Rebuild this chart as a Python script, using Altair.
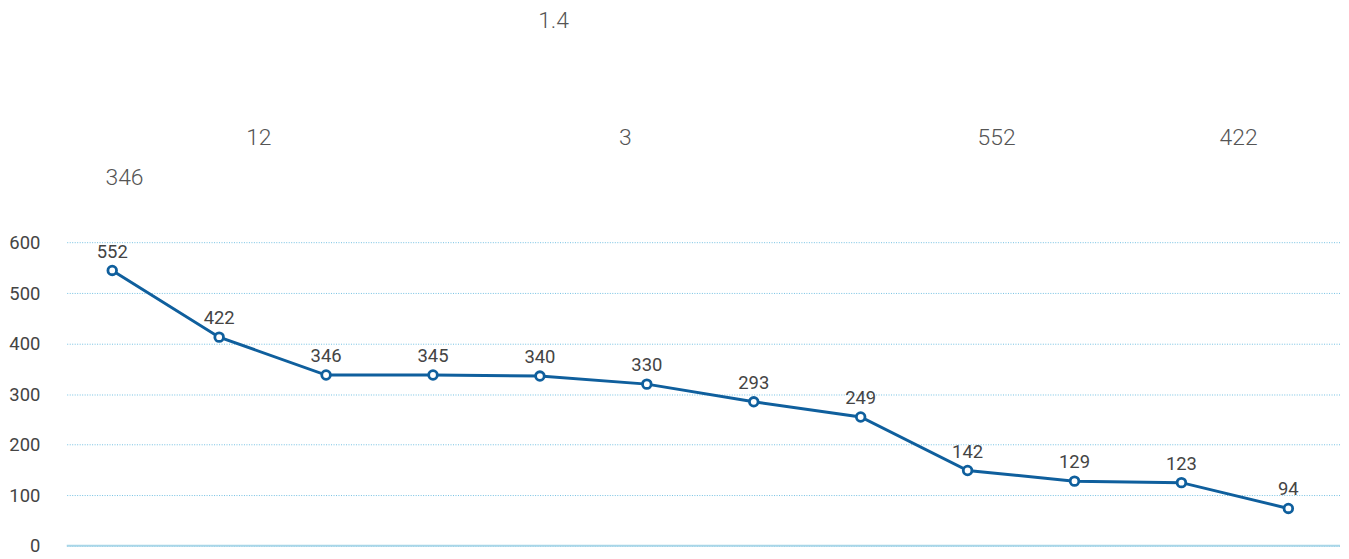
import altair as alt
import pandas as pd

# Plotted series (positions) and the labels printed above each point
index = list(range(12))
values = [545, 413, 338, 338, 336, 320, 285, 255, 149, 128, 125, 74]
labels = ["552", "422", "346", "345", "340", "330", "293", "249", "142", "129", "123", "94"]

# Floating annotations at the top of the chart (data coordinates)
ann_text = ["1.4", "12", "3", "552", "422", "346"]
ann_x = [4.128, 1.371, 4.798, 8.271, 10.534, 0.115]
ann_y = [1038, 807, 807, 807, 807, 728]

y_ticks = [0, 100, 200, 300, 400, 500, 600]

df = pd.DataFrame({"i": index, "v": values, "label": labels})
ann = pd.DataFrame({"t": ann_text, "x": ann_x, "y": ann_y})
base_rule = pd.DataFrame({"y": [0]})

LINE = "#0f5f9d"
xs = alt.Scale(domain=[-0.4255, 11.483], nice=False, zero=False)
ys = alt.Scale(domain=[0, 1062], nice=False)

x_enc = alt.X("i:Q", scale=xs, axis=None)
y_enc = alt.Y(
    "v:Q",
    scale=ys,
    axis=alt.Axis(
        values=y_ticks,
        title=None,
        ticks=False,
        domain=False,
        labelPadding=27,
        labelFont="Roboto",
        labelFontSize=18.5,
        labelColor="#444444",
        grid=True,
        gridColor="#74c1e2",
        gridDash=[1, 1.5],
        gridWidth=1,
        minExtent=57,
        maxExtent=57,
    ),
)

baseline = alt.Chart(base_rule).mark_rule(color="#a8d6e8", strokeWidth=2).encode(
    y=alt.Y("y:Q", scale=ys),
    x=alt.value(0),
    x2=alt.value(1279),
)

line = alt.Chart(df).mark_line(color=LINE, strokeWidth=3).encode(x=x_enc, y=y_enc)

points = alt.Chart(df).mark_point(
    shape="circle", filled=True, fill="white", stroke=LINE, strokeWidth=2.8, size=75, opacity=1
).encode(x=x_enc, y=alt.Y("v:Q", scale=ys))

text = alt.Chart(df).mark_text(
    font="Roboto", fontSize=18.5, color="#444444", baseline="alphabetic", dy=-13
).encode(x=x_enc, y=alt.Y("v:Q", scale=ys), text="label:N")

annotations = alt.Chart(ann).mark_text(
    font="Roboto",
    fontSize=23,
    fontWeight=300,
    color="#555555",
    baseline="middle",
    align="center",
).encode(
    x=alt.X("x:Q", scale=xs),
    y=alt.Y("y:Q", scale=ys),
    text="t:N",
)

chart = (
    alt.layer(baseline, line, points, text, annotations)
    .properties(width=1279, height=539, padding={"left": 0, "top": 0, "right": 0, "bottom": 0})
    .configure_view(strokeWidth=0)
)

chart.save("out.html", embed_options={"renderer": "svg", "actions": False})
